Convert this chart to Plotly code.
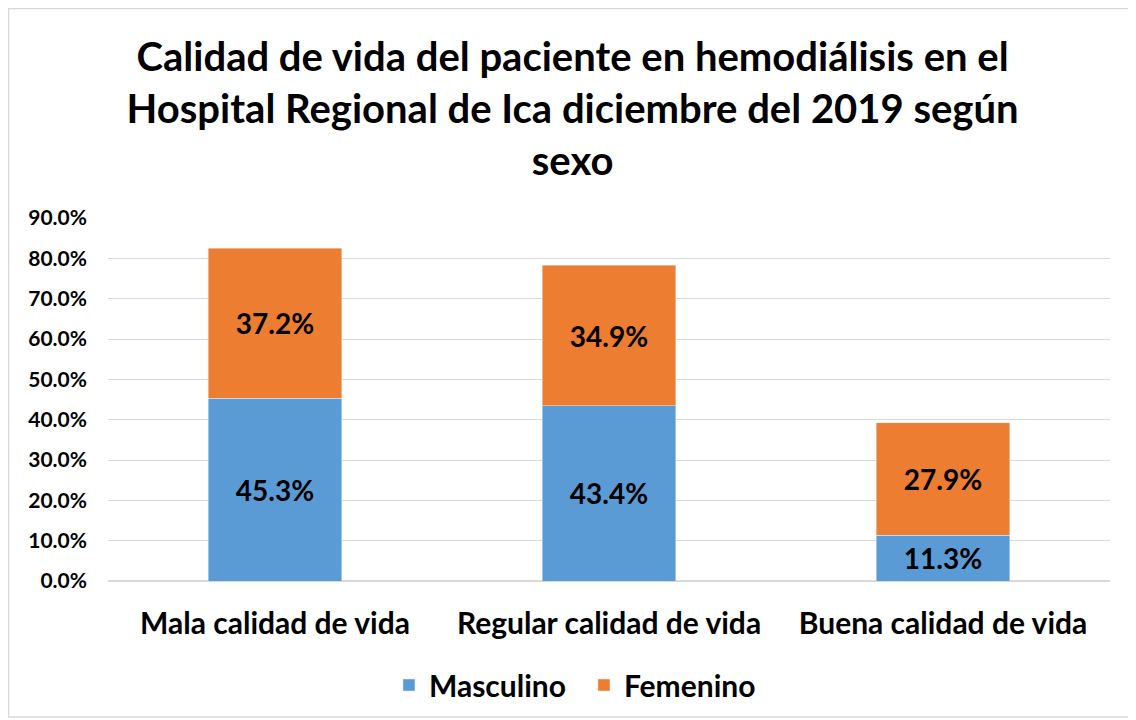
import plotly.graph_objects as go

categories = ["Mala calidad de vida", "Regular calidad de vida", "Buena calidad de vida"]
masculino = [0.453, 0.434, 0.113]
femenino = [0.372, 0.349, 0.279]
y_ticks = [0.0, 0.1, 0.2, 0.3, 0.4, 0.5, 0.6, 0.7, 0.8, 0.9]

FONT = "Lato, Carlito, 'Open Sans', sans-serif"

fig = go.Figure()
fig.add_trace(go.Bar(
    name="Masculino", x=categories, y=masculino,
    marker_color="#5b9bd5",
    text=[f"{v*100:.1f}%" for v in masculino],
    textposition="inside", insidetextanchor="middle",
    textfont=dict(size=28, color="black", family=FONT, weight="bold"),
))
fig.add_trace(go.Bar(
    name="Femenino", x=categories, y=femenino,
    marker_color="#ed7d31",
    text=[f"{v*100:.1f}%" for v in femenino],
    textposition="inside", insidetextanchor="middle",
    textfont=dict(size=28, color="black", family=FONT, weight="bold"),
))

fig.update_layout(
    barmode="stack",
    bargap=0.6,
    width=1136, height=720,
    paper_bgcolor="white", plot_bgcolor="white",
    font=dict(family=FONT, color="black"),
    title=dict(
        text="Calidad de vida del paciente en hemodiálisis en el<br>Hospital Regional de Ica diciembre del 2019 según<br>sexo",
        x=0.497, xanchor="center", y=0.913, yanchor="top",
        font=dict(size=40, family=FONT, color="black", weight="bold"),
    ),
    margin=dict(l=100, r=34, t=210, b=147),
    legend=dict(
        orientation="h", x=0.2804, xanchor="left", y=-0.2865, yanchor="middle",
        font=dict(size=30, family=FONT, color="black", weight="bold"),
        traceorder="normal",
        entrywidth=150, entrywidthmode="pixels",
    ),
    uniformtext=dict(mode=False),
)
fig.update_yaxes(
    range=[0, 0.9], tickvals=y_ticks, tickformat=".1%",
    showgrid=True, gridcolor="#d9d9d9", gridwidth=1,
    zeroline=True, zerolinecolor="#d9d9d9",
    tickfont=dict(size=21, family=FONT, color="black", weight="bold"),
    ticklabelstandoff=20,
)
fig.update_xaxes(
    tickfont=dict(size=30, family=FONT, color="black", weight="bold"),
    ticklabelstandoff=22, showline=False,
)

fig.add_shape(type="rect", xref="paper", yref="paper",
              x0=-99.5/1002, x1=1025/1002, y0=-136/363, y1=572.5/363,
              line=dict(color="#d9d9d9", width=1.5), fillcolor="rgba(0,0,0,0)", layer="below")

fig.write_html("out.html")
